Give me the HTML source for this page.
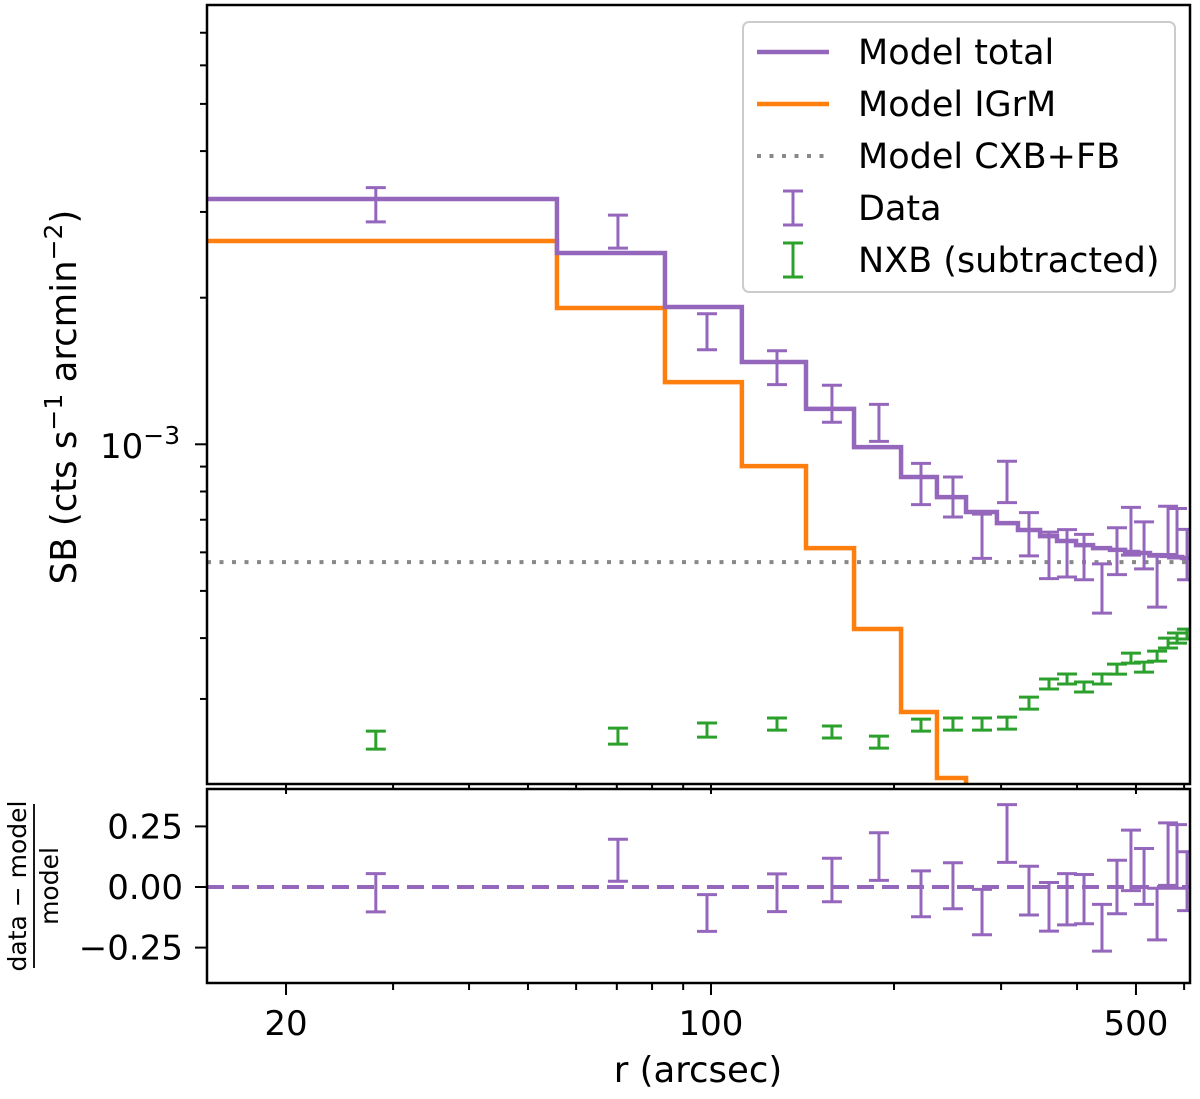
<!DOCTYPE html>
<html><head><meta charset="utf-8"><style>
body{margin:0;background:#fff;}
svg text{font-family:"DejaVu Sans","Liberation Sans",sans-serif;fill:#000;}
</style></head><body>
<svg id="chart" width="1200" height="1094" viewBox="0 0 1200 1094" xmlns="http://www.w3.org/2000/svg">
<g id="main"></g>
</svg>
<script>
// ---- data ----
const binEdges = [10, 55.8, 84.0, 112.4, 143.3, 171.9, 205.4, 235.3, 262.7, 295.3, 319.8, 347.7, 370.8, 398.5, 425, 453.2, 479.8, 504.2, 527.2, 551.8, 575.3, 595.3, 640];
const modelTotal = [3.19, 2.47, 1.914, 1.476, 1.182, 0.987, 0.857, 0.779, 0.726, 0.689, 0.667, 0.648, 0.633, 0.621, 0.612, 0.607, 0.601, 0.598, 0.592, 0.590, 0.587, 0.584];
const modelIGrM = [2.615, 1.905, 1.342, 0.902, 0.612, 0.4175, 0.282, 0.2064, 0.15, 0.11, 0.08, 0.06, 0.045, 0.035, 0.027, 0.02, 0.016, 0.012, 0.01, 0.008, 0.006, 0.005];
const modelCXB = 0.573;
const dataR = [28.1, 70.3, 98.5, 128.4, 158.1, 188.9, 221.5, 250, 279.1, 306.8, 333.4, 359.7, 385.1, 410.7, 439.6, 465.3, 490.6, 515.5, 541.6, 564.6, 584.1, 606.7];
const dataSB = [3.114, 2.742, 1.709, 1.441, 1.216, 1.111, 0.833, 0.783, 0.651, 0.841, 0.657, 0.595, 0.601, 0.590, 0.509, 0.607, 0.667, 0.624, 0.526, 0.670, 0.661, 0.598];
const dataErr = [0.252, 0.214, 0.145, 0.115, 0.106, 0.097, 0.081, 0.074, 0.068, 0.082, 0.067, 0.065, 0.067, 0.063, 0.059, 0.067, 0.075, 0.069, 0.063, 0.076, 0.077, 0.071];
const nxbSB = [0.2471, 0.2518, 0.2591, 0.2665, 0.2567, 0.2447, 0.2652, 0.2665, 0.2665, 0.2677, 0.2942, 0.322, 0.3297, 0.3175, 0.3297, 0.3455, 0.364, 0.3488, 0.3675, 0.3908, 0.4002, 0.4078];
const nxbErr = [0.0105, 0.0095, 0.0086, 0.0076, 0.0073, 0.0069, 0.0075, 0.0076, 0.0076, 0.0076, 0.0083, 0.0076, 0.0078, 0.0075, 0.0078, 0.0082, 0.0086, 0.0082, 0.0087, 0.0092, 0.0095, 0.0096];
const xMajor = [20, 100, 500];
const xMinor = [30, 40, 50, 60, 70, 80, 90, 200, 300, 400, 600];
const yMinor = [0.3, 0.4, 0.5, 0.6, 0.7, 0.8, 0.9, 2, 3, 4, 5, 6, 7];
const resTicks = [0.25, 0, -0.25];
const resTickLabels = ["0.25", "0.00", "\u22120.25"];

// ---- layout ----
const L = 207, R = 1190, T1 = 5, B1 = 784, T2 = 789, B2 = 983;
const NS = "http://www.w3.org/2000/svg";
const root = document.getElementById('main');
const sx = r => 711 + 608 * Math.log10(r / 100);
const sy = v => 444.3 - 487 * Math.log10(v);          // v in units of 1e-3
const sres = v => 887 - v * 242.4;
function el(tag, attrs, parent) {
  const e = document.createElementNS(NS, tag);
  for (const k in attrs) e.setAttribute(k, attrs[k]);
  (parent || root).appendChild(e);
  return e;
}
const PURPLE = '#9467bd', ORANGE = '#ff7f0e', GREEN = '#2ca02c';

const defs = el('defs', {});
const c1 = el('clipPath', {id: 'c1'}, defs); el('rect', {x: L, y: T1, width: R - L, height: B1 - T1}, c1);
const c2 = el('clipPath', {id: 'c2'}, defs); el('rect', {x: L, y: T2, width: R - L, height: B2 - T2}, c2);

const g1 = el('g', {'clip-path': 'url(#c1)'});


const g2 = el('g', {'clip-path': 'url(#c2)'});



function stepPath(vals) {
  let d = '';
  for (let i = 0; i < vals.length; i++) {
    const x0 = sx(binEdges[i]), x1 = sx(binEdges[i + 1]);
    const y = Math.min(sy(vals[i]), 900);
    d += (i === 0 ? 'M' : 'L') + x0 + ',' + y + 'L' + x1 + ',' + y;
  }
  return d;
}
const cxb = el('line', {x1: L, x2: R, y1: sy(modelCXB), y2: sy(modelCXB), stroke: '#888', 'stroke-width': 4, 'stroke-dasharray': '4,8.5'}, g1);


const ig = el('path', {d: stepPath(modelIGrM), fill: 'none', stroke: ORANGE, 'stroke-width': 4.5}, g1);


const tot = el('path', {d: stepPath(modelTotal), fill: 'none', stroke: PURPLE, 'stroke-width': 4.5}, g1);



function errbar(parent, x, y0, y1, color, name, w) {
  const g = el('g', {stroke: color, 'stroke-width': 3}, parent);
  
  
  el('line', {x1: x, x2: x, y1: y0, y2: y1}, g);
  el('line', {x1: x - w, x2: x + w, y1: y0, y2: y0}, g);
  el('line', {x1: x - w, x2: x + w, y1: y1, y2: y1}, g);
}
for (let i = 0; i < dataR.length; i++) {
  const x = sx(dataR[i]);
  errbar(g1, x, sy(nxbSB[i] + nxbErr[i]), sy(nxbSB[i] - nxbErr[i]), GREEN, 'nxb-point', 10);
  errbar(g1, x, sy(dataSB[i] + dataErr[i]), sy(dataSB[i] - dataErr[i]), PURPLE, 'data-point', 10);
  const bi = binEdges.findIndex((e, k) => k < binEdges.length - 1 && dataR[i] >= e && dataR[i] < binEdges[k + 1]);
  const m = modelTotal[bi];
  const res = dataSB[i] / m - 1, re = dataErr[i] / m;
  errbar(g2, x, sres(res + re), sres(res - re), PURPLE, 'residual-point', 10);
}
const zl = el('line', {x1: L, x2: R, y1: sres(0), y2: sres(0), stroke: PURPLE, 'stroke-width': 4, 'stroke-dasharray': '17,8'}, g2);



const f1 = el('rect', {x: L, y: T1, width: R - L, height: B1 - T1, fill: 'none', stroke: '#000', 'stroke-width': 2.5});


const f2 = el('rect', {x: L, y: T2, width: R - L, height: B2 - T2, fill: 'none', stroke: '#000', 'stroke-width': 2.5});



const ticks = el('g', {stroke: '#000', 'stroke-width': 2});


for (const v of xMajor) {
  const x = sx(v);
  el('line', {x1: x, x2: x, y1: B1, y2: B1 + 10}, ticks);
  el('line', {x1: x, x2: x, y1: B2, y2: B2 + 12}, ticks);
  const t = el('text', {x: x, y: 1035, 'font-size': 34, 'text-anchor': 'middle', stroke: 'none'});
  t.textContent = v;
  
  
}
for (const v of xMinor) {
  const x = sx(v);
  if (x > R) continue;
  el('line', {x1: x, x2: x, y1: B1, y2: B1 + 6}, ticks);
  el('line', {x1: x, x2: x, y1: B2, y2: B2 + 7}, ticks);
}
el('line', {x1: L - 12, x2: L, y1: sy(1), y2: sy(1)}, ticks);
for (const v of yMinor) el('line', {x1: L - 7, x2: L, y1: sy(v), y2: sy(v)}, ticks);
const yl = el('text', {x: 100, y: 458, 'font-size': 34});


yl.innerHTML = '10<tspan font-size="25" dy="-14">\u22123</tspan>';
for (let i = 0; i < resTicks.length; i++) {
  const y = sres(resTicks[i]);
  el('line', {x1: L - 12, x2: L, y1: y, y2: y}, ticks);
  const t = el('text', {x: 183, y: y + 12, 'font-size': 34, 'text-anchor': 'end'});
  t.textContent = resTickLabels[i];
  
  
}
const xt = el('text', {x: 698, y: 1082, 'font-size': 35.5, 'text-anchor': 'middle'});
xt.textContent = 'r (arcsec)';


const yt = el('text', {x: 0, y: 0, 'font-size': 35.5, 'text-anchor': 'middle', transform: 'translate(76,397) rotate(-90)'});
yt.innerHTML = 'SB (cts s<tspan font-size="25" dy="-14">\u22121</tspan><tspan dy="14"> arcmin</tspan><tspan font-size="25" dy="-14">\u22122</tspan><tspan dy="14">)</tspan>';


const rt = el('g', {transform: 'translate(34,886) rotate(-90)'});


const n1 = el('text', {x: 0, y: -8, 'font-size': 25, 'text-anchor': 'middle'}, rt); n1.textContent = 'data \u2212 model';
el('line', {x1: -82, x2: 82, y1: 0, y2: 0, stroke: '#000', 'stroke-width': 1.8}, rt);
const n2 = el('text', {x: 0, y: 24, 'font-size': 25, 'text-anchor': 'middle'}, rt); n2.textContent = 'model';

const lg = el('g', {});


el('rect', {x: 743, y: 22, width: 432, height: 270, rx: 6, fill: '#fff', 'fill-opacity': 0.8, stroke: '#ccc', 'stroke-width': 2}, lg);
const entries = [['Model total', 'line', PURPLE], ['Model IGrM', 'line', ORANGE], ['Model CXB+FB', 'dot', '#888'], ['Data', 'err', PURPLE], ['NXB (subtracted)', 'err', GREEN]];
entries.forEach((e, i) => {
  const y = 52 + i * 52;
  const g = el('g', {}, lg);
  
  
  if (e[1] === 'line') el('line', {x1: 757, x2: 829, y1: y, y2: y, stroke: e[2], 'stroke-width': 4.5}, g);
  else if (e[1] === 'dot') el('line', {x1: 757, x2: 829, y1: y, y2: y, stroke: e[2], 'stroke-width': 4, 'stroke-dasharray': '4,8.5'}, g);
  else {
    const gg = el('g', {stroke: e[2], 'stroke-width': 3}, g);
    el('line', {x1: 793, x2: 793, y1: y - 17, y2: y + 17}, gg);
    el('line', {x1: 783, x2: 803, y1: y - 17, y2: y - 17}, gg);
    el('line', {x1: 783, x2: 803, y1: y + 17, y2: y + 17}, gg);
  }
  const t = el('text', {x: 858, y: y + 12, 'font-size': 35}, g);
  t.textContent = e[0];
});
</script>
</body></html>
